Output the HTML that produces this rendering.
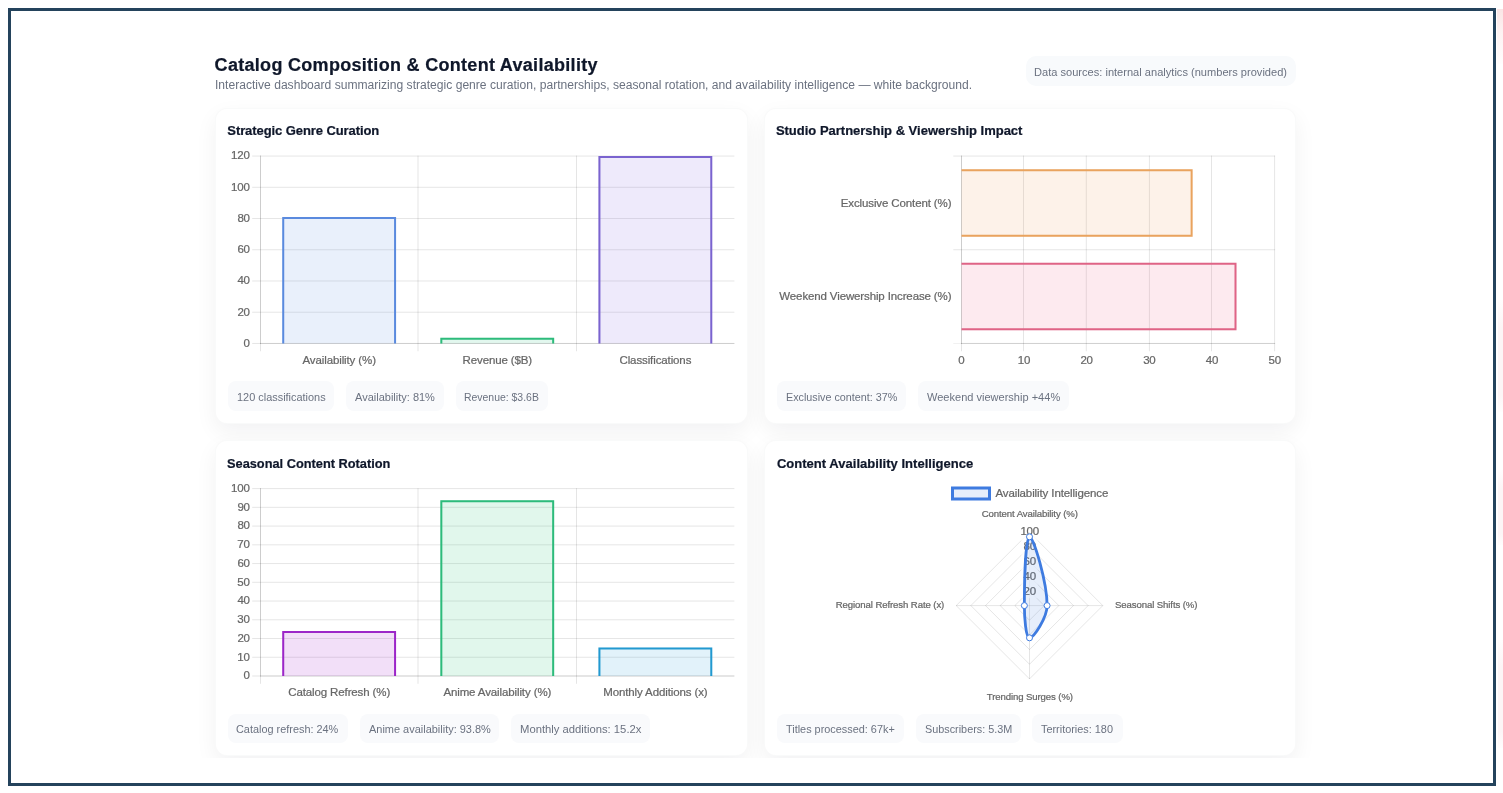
<!DOCTYPE html>
<html lang="en"><head><meta charset="utf-8"><title>Catalog Composition &amp; Content Availability</title>
<style>
html,body{margin:0;padding:0;background:#fff}
body{width:1503px;height:793px;position:relative;overflow:hidden;font-family:"Liberation Sans", sans-serif;}
.frame{position:absolute;left:8px;top:8px;width:1482px;height:772px;border:3px solid #24435c;}
.tx{position:absolute;white-space:nowrap;margin:0;padding:0;display:block;transform-origin:0 0}
.card{position:absolute;box-sizing:border-box;background:#fff;border-radius:12px;border:1px solid rgba(15,23,42,0.022);box-shadow:0 8px 22px rgba(15,23,42,0.055);}
.mask{position:absolute;left:11px;top:757.6px;width:1482px;height:25.4px;background:#fff}
.chip{position:absolute;background:#f9fafc;border-radius:8px;}
.pill{position:absolute;background:#f8fafc;border-radius:10px;}
svg{position:absolute;left:0;top:0;overflow:visible}
svg text{font-family:"Liberation Sans", sans-serif;stroke:#666;stroke-width:0.22px;}
.b{-webkit-text-stroke:0.22px #0f172a}
</style></head><body>
<div class="frame"></div>

<header>
<h1 class="tx b" style="left:214.60px;top:55.00px;font-size:18px;font-weight:700;line-height:20px;letter-spacing:0.298px;color:#0f172a">Catalog Composition &amp; Content Availability</h1>
<p class="tx" style="left:214.53px;top:78.10px;font-size:12.5px;font-weight:400;line-height:14px;transform:scaleX(0.9676);color:#6b7280">Interactive dashboard summarizing strategic genre curation, partnerships, seasonal rotation, and availability intelligence — white background.</p>
<div class="pill" style="left:1025.5px;top:56px;width:270.5px;height:30px"><span class="tx" style="left:8.54px;top:10.30px;font-size:11.5px;font-weight:400;line-height:12px;transform:scaleX(0.9632);color:#6b7280">Data sources: internal analytics (numbers provided)</span></div>
</header>
<main>
<section class="card" style="left:215px;top:107.5px;width:532.5px;height:316.2px">
<h2 class="tx b" style="left:11.30px;top:14.20px;font-size:13px;font-weight:700;line-height:15px;letter-spacing:-0.083px;color:#0f172a">Strategic Genre Curation</h2>
<svg role="img" aria-label="Strategic Genre Curation bar chart" style="left:0.0px;top:-0.5px" width="533" height="317" viewBox="216 108 533 317">
<rect x="252.20" y="342.96" width="482.20" height="1" fill="#000" fill-opacity="0.1"/>
<text x="249.90" y="346.86" text-anchor="end" font-size="11.5" letter-spacing="0.000" fill="#666">0</text>
<rect x="252.20" y="311.72" width="482.20" height="1" fill="#000" fill-opacity="0.1"/>
<text x="249.61" y="315.62" text-anchor="end" font-size="11.5" letter-spacing="-0.286" fill="#666">20</text>
<rect x="252.20" y="280.49" width="482.20" height="1" fill="#000" fill-opacity="0.1"/>
<text x="249.61" y="284.39" text-anchor="end" font-size="11.5" letter-spacing="-0.286" fill="#666">40</text>
<rect x="252.20" y="249.25" width="482.20" height="1" fill="#000" fill-opacity="0.1"/>
<text x="249.61" y="253.16" text-anchor="end" font-size="11.5" letter-spacing="-0.286" fill="#666">60</text>
<rect x="252.20" y="218.02" width="482.20" height="1" fill="#000" fill-opacity="0.1"/>
<text x="249.61" y="221.92" text-anchor="end" font-size="11.5" letter-spacing="-0.286" fill="#666">80</text>
<rect x="252.20" y="186.78" width="482.20" height="1" fill="#000" fill-opacity="0.1"/>
<text x="249.70" y="190.69" text-anchor="end" font-size="11.5" letter-spacing="-0.198" fill="#666">100</text>
<rect x="252.20" y="155.55" width="482.20" height="1" fill="#000" fill-opacity="0.1"/>
<text x="249.70" y="159.45" text-anchor="end" font-size="11.5" letter-spacing="-0.198" fill="#666">120</text>
<rect x="260.00" y="342.96" width="474.40" height="1" fill="#000" fill-opacity="0.1"/>
<rect x="260.00" y="155.55" width="1" height="195.71" fill="#000" fill-opacity="0.1"/>
<rect x="417.50" y="155.55" width="1" height="195.71" fill="#000" fill-opacity="0.1"/>
<rect x="576.00" y="155.55" width="1" height="195.71" fill="#000" fill-opacity="0.1"/>
<rect x="260.00" y="155.55" width="1" height="188.41" fill="#000" fill-opacity="0.1"/>
<rect x="282.23" y="216.96" width="113.83" height="126.50" fill="rgba(84,136,222,0.13)"/><path d="M283.23 343.46V217.96H395.07V343.46" fill="none" stroke="#5a8ade" stroke-width="2"/>
<text x="339.20" y="363.76" text-anchor="middle" font-size="11.5" letter-spacing="-0.109" fill="#666">Availability (%)</text>
<rect x="440.33" y="337.84" width="113.83" height="5.62" fill="rgba(34,190,120,0.13)"/><path d="M441.33 343.46V338.84H553.17V343.46" fill="none" stroke="#2dbb7b" stroke-width="2"/>
<text x="497.28" y="363.76" text-anchor="middle" font-size="11.5" letter-spacing="-0.138" fill="#666">Revenue ($B)</text>
<rect x="598.43" y="156.05" width="113.83" height="187.41" fill="rgba(124,92,224,0.13)"/><path d="M599.43 343.46V157.05H711.27V343.46" fill="none" stroke="#7a63cf" stroke-width="2"/>
<text x="655.39" y="363.76" text-anchor="middle" font-size="11.5" letter-spacing="-0.113" fill="#666">Classifications</text>
</svg>
<div class="chips">
<div class="chip" style="left:12.3px;top:272.6px;width:106.1px;height:29.8px"><span class="tx" style="left:8.45px;top:9.70px;font-size:11.5px;font-weight:400;line-height:12px;transform:scaleX(0.9500);color:#6b7280">120 classifications</span></div>
<div class="chip" style="left:129.8px;top:272.6px;width:98.1px;height:29.8px"><span class="tx" style="left:9.40px;top:9.70px;font-size:11.5px;font-weight:400;line-height:12px;transform:scaleX(0.9566);color:#6b7280">Availability: 81%</span></div>
<div class="chip" style="left:240.0px;top:272.6px;width:92.2px;height:29.8px"><span class="tx" style="left:8.49px;top:9.70px;font-size:11.5px;font-weight:400;line-height:12px;transform:scaleX(0.9074);color:#6b7280">Revenue: $3.6B</span></div>
</div>
</section>
<section class="card" style="left:763.5px;top:107.5px;width:532.5px;height:316.2px">
<h2 class="tx b" style="left:11.40px;top:14.20px;font-size:13px;font-weight:700;line-height:15px;letter-spacing:-0.008px;color:#0f172a">Studio Partnership &amp; Viewership Impact</h2>
<svg role="img" aria-label="Studio Partnership horizontal bar chart" style="left:-0.5px;top:-0.5px" width="533" height="317" viewBox="764 108 533 317">
<rect x="961.00" y="155.55" width="1" height="195.71" fill="#000" fill-opacity="0.1"/>
<text x="961.40" y="363.76" text-anchor="middle" font-size="11.5" letter-spacing="0.000" fill="#666">0</text>
<rect x="1023.00" y="155.55" width="1" height="195.71" fill="#000" fill-opacity="0.1"/>
<text x="1023.95" y="363.76" text-anchor="middle" font-size="11.5" letter-spacing="-0.264" fill="#666">10</text>
<rect x="1085.80" y="155.55" width="1" height="195.71" fill="#000" fill-opacity="0.1"/>
<text x="1086.62" y="363.76" text-anchor="middle" font-size="11.5" letter-spacing="-0.286" fill="#666">20</text>
<rect x="1148.90" y="155.55" width="1" height="195.71" fill="#000" fill-opacity="0.1"/>
<text x="1149.31" y="363.76" text-anchor="middle" font-size="11.5" letter-spacing="-0.264" fill="#666">30</text>
<rect x="1211.00" y="155.55" width="1" height="195.71" fill="#000" fill-opacity="0.1"/>
<text x="1211.98" y="363.76" text-anchor="middle" font-size="11.5" letter-spacing="-0.286" fill="#666">40</text>
<rect x="1274.10" y="155.55" width="1" height="195.71" fill="#000" fill-opacity="0.1"/>
<text x="1274.67" y="363.76" text-anchor="middle" font-size="11.5" letter-spacing="-0.264" fill="#666">50</text>
<rect x="961.00" y="155.55" width="1" height="188.41" fill="#000" fill-opacity="0.1"/>
<rect x="953.30" y="155.55" width="321.80" height="1" fill="#000" fill-opacity="0.1"/>
<rect x="953.30" y="249.25" width="321.80" height="1" fill="#000" fill-opacity="0.1"/>
<rect x="953.30" y="342.96" width="7.70" height="1" fill="#000" fill-opacity="0.06"/>
<rect x="961.00" y="342.96" width="314.10" height="1" fill="#000" fill-opacity="0.19"/>
<rect x="961.50" y="169.17" width="231.12" height="67.47" fill="rgba(242,150,70,0.12)"/><path d="M961.50 170.17H1191.62V235.64H961.50" fill="none" stroke="#e9a35e" stroke-width="2"/>
<text x="951.38" y="206.50" text-anchor="end" font-size="11.5" letter-spacing="-0.122" fill="#666">Exclusive Content (%)</text>
<rect x="961.50" y="262.87" width="274.99" height="67.47" fill="rgba(240,80,125,0.12)"/><path d="M961.50 263.87H1235.49V329.34H961.50" fill="none" stroke="#df6486" stroke-width="2"/>
<text x="951.37" y="300.21" text-anchor="end" font-size="11.5" letter-spacing="-0.128" fill="#666">Weekend Viewership Increase (%)</text>
</svg>
<div class="chips">
<div class="chip" style="left:12.7px;top:272.6px;width:129.2px;height:29.8px"><span class="tx" style="left:8.46px;top:9.70px;font-size:11.5px;font-weight:400;line-height:12px;transform:scaleX(0.9364);color:#6b7280">Exclusive content: 37%</span></div>
<div class="chip" style="left:153.2px;top:272.6px;width:151.1px;height:29.8px"><span class="tx" style="left:9.40px;top:9.70px;font-size:11.5px;font-weight:400;line-height:12px;transform:scaleX(0.9594);color:#6b7280">Weekend viewership +44%</span></div>
</div>
</section>
<section class="card" style="left:215px;top:440.3px;width:532.5px;height:316.2px">
<h2 class="tx b" style="left:11.12px;top:14.70px;font-size:13px;font-weight:700;line-height:15px;transform:scaleX(0.9836);color:#0f172a">Seasonal Content Rotation</h2>
<svg role="img" aria-label="Seasonal Content Rotation bar chart" style="left:0.0px;top:-0.3px" width="533" height="317" viewBox="216 441 533 317">
<rect x="252.20" y="675.50" width="482.20" height="1" fill="#000" fill-opacity="0.1"/>
<text x="249.90" y="679.40" text-anchor="end" font-size="11.5" letter-spacing="0.000" fill="#666">0</text>
<rect x="252.20" y="656.76" width="482.20" height="1" fill="#000" fill-opacity="0.1"/>
<text x="249.64" y="660.66" text-anchor="end" font-size="11.5" letter-spacing="-0.264" fill="#666">10</text>
<rect x="252.20" y="638.02" width="482.20" height="1" fill="#000" fill-opacity="0.1"/>
<text x="249.61" y="641.92" text-anchor="end" font-size="11.5" letter-spacing="-0.286" fill="#666">20</text>
<rect x="252.20" y="619.28" width="482.20" height="1" fill="#000" fill-opacity="0.1"/>
<text x="249.64" y="623.18" text-anchor="end" font-size="11.5" letter-spacing="-0.264" fill="#666">30</text>
<rect x="252.20" y="600.54" width="482.20" height="1" fill="#000" fill-opacity="0.1"/>
<text x="249.61" y="604.44" text-anchor="end" font-size="11.5" letter-spacing="-0.286" fill="#666">40</text>
<rect x="252.20" y="581.80" width="482.20" height="1" fill="#000" fill-opacity="0.1"/>
<text x="249.64" y="585.70" text-anchor="end" font-size="11.5" letter-spacing="-0.264" fill="#666">50</text>
<rect x="252.20" y="563.06" width="482.20" height="1" fill="#000" fill-opacity="0.1"/>
<text x="249.61" y="566.96" text-anchor="end" font-size="11.5" letter-spacing="-0.286" fill="#666">60</text>
<rect x="252.20" y="544.32" width="482.20" height="1" fill="#000" fill-opacity="0.1"/>
<text x="249.64" y="548.22" text-anchor="end" font-size="11.5" letter-spacing="-0.264" fill="#666">70</text>
<rect x="252.20" y="525.58" width="482.20" height="1" fill="#000" fill-opacity="0.1"/>
<text x="249.61" y="529.48" text-anchor="end" font-size="11.5" letter-spacing="-0.286" fill="#666">80</text>
<rect x="252.20" y="506.84" width="482.20" height="1" fill="#000" fill-opacity="0.1"/>
<text x="249.61" y="510.74" text-anchor="end" font-size="11.5" letter-spacing="-0.286" fill="#666">90</text>
<rect x="252.20" y="488.10" width="482.20" height="1" fill="#000" fill-opacity="0.1"/>
<text x="249.70" y="492.00" text-anchor="end" font-size="11.5" letter-spacing="-0.198" fill="#666">100</text>
<rect x="260.00" y="675.50" width="474.40" height="1" fill="#000" fill-opacity="0.1"/>
<rect x="260.00" y="488.10" width="1" height="195.70" fill="#000" fill-opacity="0.1"/>
<rect x="417.50" y="488.10" width="1" height="195.70" fill="#000" fill-opacity="0.1"/>
<rect x="576.00" y="488.10" width="1" height="195.70" fill="#000" fill-opacity="0.1"/>
<rect x="260.00" y="488.10" width="1" height="188.40" fill="#000" fill-opacity="0.1"/>
<rect x="282.23" y="631.02" width="113.83" height="44.98" fill="rgba(162,31,208,0.14)"/><path d="M283.23 676.00V632.02H395.07V676.00" fill="none" stroke="#9c26c8" stroke-width="2"/>
<text x="339.19" y="696.30" text-anchor="middle" font-size="11.5" letter-spacing="-0.125" fill="#666">Catalog Refresh (%)</text>
<rect x="440.33" y="500.22" width="113.83" height="175.78" fill="rgba(46,197,122,0.14)"/><path d="M441.33 676.00V501.22H553.17V676.00" fill="none" stroke="#2dbb7b" stroke-width="2"/>
<text x="497.29" y="696.30" text-anchor="middle" font-size="11.5" letter-spacing="-0.115" fill="#666">Anime Availability (%)</text>
<rect x="598.43" y="647.52" width="113.83" height="28.48" fill="rgba(29,155,216,0.13)"/><path d="M599.43 676.00V648.52H711.27V676.00" fill="none" stroke="#2299d0" stroke-width="2"/>
<text x="655.39" y="696.30" text-anchor="middle" font-size="11.5" letter-spacing="-0.116" fill="#666">Monthly Additions (x)</text>
</svg>
<div class="chips">
<div class="chip" style="left:11.9px;top:272.3px;width:120.0px;height:29.8px"><span class="tx" style="left:8.45px;top:9.75px;font-size:11.5px;font-weight:400;line-height:12px;transform:scaleX(0.9467);color:#6b7280">Catalog refresh: 24%</span></div>
<div class="chip" style="left:143.6px;top:272.3px;width:139.7px;height:29.8px"><span class="tx" style="left:9.40px;top:9.75px;font-size:11.5px;font-weight:400;line-height:12px;transform:scaleX(0.9528);color:#6b7280">Anime availability: 93.8%</span></div>
<div class="chip" style="left:295.1px;top:272.3px;width:139.1px;height:29.8px"><span class="tx" style="left:8.42px;top:9.75px;font-size:11.5px;font-weight:400;line-height:12px;transform:scaleX(0.9789);color:#6b7280">Monthly additions: 15.2x</span></div>
</div>
</section>
<section class="card" style="left:763.5px;top:440.3px;width:532.5px;height:316.2px">
<h2 class="tx b" style="left:12.40px;top:14.70px;font-size:13px;font-weight:700;line-height:15px;letter-spacing:0.028px;color:#0f172a">Content Availability Intelligence</h2>
<svg role="img" aria-label="Content Availability Intelligence radar chart" style="left:-0.5px;top:-0.3px" width="533" height="317" viewBox="764 441 533 317">
<path d="M1029.5 590.94L1044.16 605.6L1029.5 620.26L1014.84 605.6Z" fill="none" stroke="#000" stroke-opacity="0.1" stroke-width="1"/>
<path d="M1029.5 576.28L1058.82 605.6L1029.5 634.92L1000.18 605.6Z" fill="none" stroke="#000" stroke-opacity="0.1" stroke-width="1"/>
<path d="M1029.5 561.62L1073.48 605.6L1029.5 649.58L985.52 605.6Z" fill="none" stroke="#000" stroke-opacity="0.1" stroke-width="1"/>
<path d="M1029.5 546.96L1088.14 605.6L1029.5 664.24L970.86 605.6Z" fill="none" stroke="#000" stroke-opacity="0.1" stroke-width="1"/>
<path d="M1029.5 532.30L1102.80 605.6L1029.5 678.90L956.20 605.6Z" fill="none" stroke="#000" stroke-opacity="0.1" stroke-width="1"/>
<path d="M1029.5 605.6V532.3000000000001M1029.5 605.6H1102.8M1029.5 605.6V678.9M1029.5 605.6H956.2" fill="none" stroke="#000" stroke-opacity="0.1" stroke-width="1"/>
<rect x="1021.24" y="583.03" width="16.52" height="15.25" fill="#fff" fill-opacity="0.75"/>
<text x="1029.66" y="594.63" text-anchor="middle" font-size="11.5" letter-spacing="-0.286" fill="#666">20</text>
<rect x="1021.24" y="568.06" width="16.52" height="15.25" fill="#fff" fill-opacity="0.75"/>
<text x="1029.66" y="579.66" text-anchor="middle" font-size="11.5" letter-spacing="-0.286" fill="#666">40</text>
<rect x="1021.24" y="553.09" width="16.52" height="15.25" fill="#fff" fill-opacity="0.75"/>
<text x="1029.66" y="564.69" text-anchor="middle" font-size="11.5" letter-spacing="-0.286" fill="#666">60</text>
<rect x="1021.24" y="538.12" width="16.52" height="15.25" fill="#fff" fill-opacity="0.75"/>
<text x="1029.66" y="549.72" text-anchor="middle" font-size="11.5" letter-spacing="-0.286" fill="#666">80</text>
<rect x="1018.11" y="523.15" width="22.78" height="15.25" fill="#fff" fill-opacity="0.75"/>
<text x="1029.70" y="534.75" text-anchor="middle" font-size="11.5" letter-spacing="-0.198" fill="#666">100</text>
<path d="M1029.50 536.84C1033.53 536.84 1047.09 582.31 1047.09 605.60C1047.09 617.66 1033.71 637.85 1029.50 637.85C1025.76 637.85 1024.37 616.96 1024.37 605.60C1024.37 581.61 1025.58 536.84 1029.50 536.84Z" fill="rgba(62,123,224,0.13)" stroke="#3e7be0" stroke-width="2.8" stroke-linejoin="round"/>
<circle cx="1029.50" cy="536.84" r="3" fill="#fff" stroke="#3e7be0" stroke-width="1"/>
<circle cx="1047.09" cy="605.60" r="3" fill="#fff" stroke="#3e7be0" stroke-width="1"/>
<circle cx="1029.50" cy="637.85" r="3" fill="#fff" stroke="#3e7be0" stroke-width="1"/>
<circle cx="1024.37" cy="605.60" r="3" fill="#fff" stroke="#3e7be0" stroke-width="1"/>
<text x="1029.75" y="516.70" text-anchor="middle" font-size="9.6" letter-spacing="-0.094" fill="#666">Content Availability (%)</text>
<text x="1029.85" y="699.70" text-anchor="middle" font-size="9.6" letter-spacing="-0.108" fill="#666">Trending Surges (%)</text>
<text x="1115.00" y="608.10" text-anchor="start" font-size="9.6" letter-spacing="-0.101" fill="#666">Seasonal Shifts (%)</text>
<text x="944.20" y="608.10" text-anchor="end" font-size="9.6" letter-spacing="-0.100" fill="#666">Regional Refresh Rate (x)</text>
<rect x="952.5" y="488" width="37" height="11" fill="rgba(62,123,224,0.13)" stroke="#3e7be0" stroke-width="3"/>
<text x="995.40" y="496.60" text-anchor="start" font-size="11.5" letter-spacing="-0.105" fill="#666">Availability Intelligence</text>
</svg>
<div class="chips">
<div class="chip" style="left:12.1px;top:272.3px;width:127.5px;height:29.8px"><span class="tx" style="left:9.40px;top:9.75px;font-size:11.5px;font-weight:400;line-height:12px;transform:scaleX(0.9461);color:#6b7280">Titles processed: 67k+</span></div>
<div class="chip" style="left:151.7px;top:272.3px;width:104.4px;height:29.8px"><span class="tx" style="left:8.46px;top:9.75px;font-size:11.5px;font-weight:400;line-height:12px;transform:scaleX(0.9418);color:#6b7280">Subscribers: 5.3M</span></div>
<div class="chip" style="left:267.6px;top:272.3px;width:90.6px;height:29.8px"><span class="tx" style="left:9.40px;top:9.75px;font-size:11.5px;font-weight:400;line-height:12px;transform:scaleX(0.9461);color:#6b7280">Territories: 180</span></div>
</div>
</section>
</main>
<div class="mask"></div>
<div style="position:absolute;left:1497px;top:9px;width:6px;height:55px;background:linear-gradient(to bottom,#fae5e5 0%,#fdf2f2 40%,#fffdfd 100%)"></div>
<div style="position:absolute;left:1497.5px;top:300px;width:5.5px;height:112px;background:linear-gradient(to bottom,#fffdfd 0%,#fcf5f6 25%,#fcf5f6 85%,#fffdfd 100%)"></div>
<div style="position:absolute;left:1497.5px;top:470px;width:5.5px;height:75px;background:linear-gradient(to bottom,#fffdfd 0%,#fcf5f6 25%,#fcf5f6 85%,#fffdfd 100%)"></div>
<div style="position:absolute;left:1497.5px;top:640px;width:5.5px;height:108px;background:linear-gradient(to bottom,#fffdfd 0%,#fcf5f6 25%,#fcf5f6 85%,#fffdfd 100%)"></div>
</body></html>
